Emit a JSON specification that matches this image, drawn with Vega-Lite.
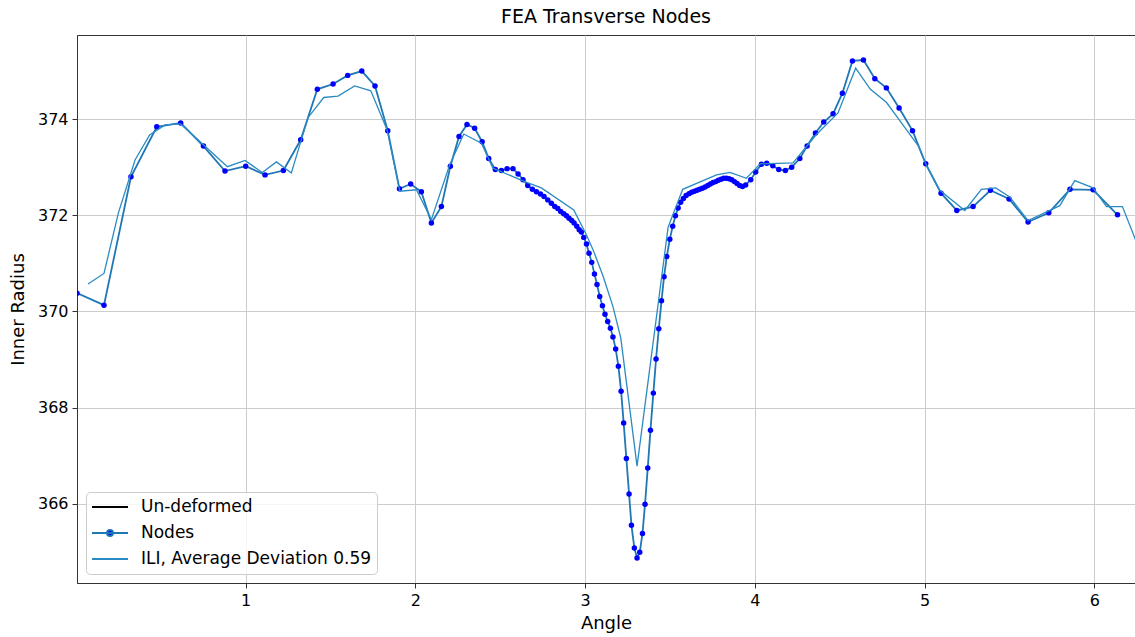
{
  "$schema": "https://vega.github.io/schema/vega-lite/v6.json",
  "width": 1058,
  "height": 548,
  "autosize": {"type": "none"},
  "padding": {"left": 77, "top": 35, "right": 0, "bottom": 54},
  "background": "white",
  "config": {
    "font": "DejaVu Sans",
    "view": {"stroke": "#333333", "strokeWidth": 1},
    "axis": {
      "labelFont": "DejaVu Sans", "titleFont": "DejaVu Sans",
      "labelFontSize": 16, "titleFontSize": 18, "titleFontWeight": "normal",
      "labelColor": "#000000", "titleColor": "#000000",
      "domainColor": "#333333", "tickColor": "#333333", "tickSize": 5,
      "gridColor": "#cccccc", "gridWidth": 1
    }
  },
  "title": {"text": "FEA Transverse Nodes", "fontSize": 19, "fontWeight": "normal", "font": "DejaVu Sans", "color": "#000000", "offset": 8},
  "datasets": {
    "nodes": [
      {"angle": 0.006, "r": 370.38}, {"angle": 0.165, "r": 370.13}, {"angle": 0.324, "r": 372.80}, {"angle": 0.476, "r": 373.84},
      {"angle": 0.617, "r": 373.92}, {"angle": 0.751, "r": 373.44}, {"angle": 0.878, "r": 372.92}, {"angle": 1.000, "r": 373.02},
      {"angle": 1.114, "r": 372.84}, {"angle": 1.222, "r": 372.93}, {"angle": 1.324, "r": 373.57}, {"angle": 1.422, "r": 374.62},
      {"angle": 1.515, "r": 374.73}, {"angle": 1.601, "r": 374.91}, {"angle": 1.684, "r": 375.00}, {"angle": 1.762, "r": 374.69},
      {"angle": 1.837, "r": 373.76}, {"angle": 1.906, "r": 372.55}, {"angle": 1.972, "r": 372.65}, {"angle": 2.035, "r": 372.49},
      {"angle": 2.094, "r": 371.84}, {"angle": 2.153, "r": 372.18}, {"angle": 2.206, "r": 373.02}, {"angle": 2.257, "r": 373.64},
      {"angle": 2.304, "r": 373.89}, {"angle": 2.349, "r": 373.81}, {"angle": 2.393, "r": 373.53}, {"angle": 2.432, "r": 373.18},
      {"angle": 2.471, "r": 372.95}, {"angle": 2.507, "r": 372.93}, {"angle": 2.540, "r": 372.97}, {"angle": 2.575, "r": 372.97},
      {"angle": 2.605, "r": 372.86}, {"angle": 2.634, "r": 372.74}, {"angle": 2.662, "r": 372.62}, {"angle": 2.689, "r": 372.54},
      {"angle": 2.713, "r": 372.49}, {"angle": 2.737, "r": 372.44}, {"angle": 2.758, "r": 372.39}, {"angle": 2.780, "r": 372.32},
      {"angle": 2.801, "r": 372.25}, {"angle": 2.821, "r": 372.18}, {"angle": 2.839, "r": 372.14}, {"angle": 2.856, "r": 372.08},
      {"angle": 2.874, "r": 372.03}, {"angle": 2.890, "r": 371.99}, {"angle": 2.905, "r": 371.94}, {"angle": 2.921, "r": 371.89},
      {"angle": 2.935, "r": 371.84}, {"angle": 2.951, "r": 371.77}, {"angle": 2.965, "r": 371.70}, {"angle": 2.978, "r": 371.65},
      {"angle": 2.992, "r": 371.54}, {"angle": 3.008, "r": 371.40}, {"angle": 3.023, "r": 371.21}, {"angle": 3.039, "r": 371.02},
      {"angle": 3.055, "r": 370.78}, {"angle": 3.070, "r": 370.56}, {"angle": 3.086, "r": 370.31}, {"angle": 3.102, "r": 370.12},
      {"angle": 3.117, "r": 369.94}, {"angle": 3.133, "r": 369.79}, {"angle": 3.149, "r": 369.65}, {"angle": 3.164, "r": 369.47},
      {"angle": 3.180, "r": 369.22}, {"angle": 3.196, "r": 368.86}, {"angle": 3.212, "r": 368.34}, {"angle": 3.227, "r": 367.68},
      {"angle": 3.243, "r": 366.94}, {"angle": 3.259, "r": 366.20}, {"angle": 3.273, "r": 365.55}, {"angle": 3.290, "r": 365.08},
      {"angle": 3.306, "r": 364.87}, {"angle": 3.322, "r": 364.99}, {"angle": 3.338, "r": 365.38}, {"angle": 3.353, "r": 365.99},
      {"angle": 3.369, "r": 366.74}, {"angle": 3.385, "r": 367.53}, {"angle": 3.402, "r": 368.30}, {"angle": 3.418, "r": 369.01},
      {"angle": 3.434, "r": 369.64}, {"angle": 3.450, "r": 370.22}, {"angle": 3.465, "r": 370.72}, {"angle": 3.481, "r": 371.14},
      {"angle": 3.499, "r": 371.50}, {"angle": 3.516, "r": 371.77}, {"angle": 3.532, "r": 371.99}, {"angle": 3.548, "r": 372.15},
      {"angle": 3.563, "r": 372.27}, {"angle": 3.579, "r": 372.35}, {"angle": 3.595, "r": 372.41}, {"angle": 3.612, "r": 372.45},
      {"angle": 3.628, "r": 372.48}, {"angle": 3.644, "r": 372.50}, {"angle": 3.660, "r": 372.52}, {"angle": 3.675, "r": 372.54},
      {"angle": 3.691, "r": 372.56}, {"angle": 3.707, "r": 372.59}, {"angle": 3.723, "r": 372.62}, {"angle": 3.738, "r": 372.65},
      {"angle": 3.754, "r": 372.68}, {"angle": 3.770, "r": 372.70}, {"angle": 3.785, "r": 372.73}, {"angle": 3.801, "r": 372.75},
      {"angle": 3.817, "r": 372.77}, {"angle": 3.833, "r": 372.77}, {"angle": 3.848, "r": 372.76}, {"angle": 3.864, "r": 372.74},
      {"angle": 3.880, "r": 372.70}, {"angle": 3.895, "r": 372.66}, {"angle": 3.911, "r": 372.62}, {"angle": 3.927, "r": 372.60},
      {"angle": 3.946, "r": 372.63}, {"angle": 3.976, "r": 372.74}, {"angle": 4.005, "r": 372.90}, {"angle": 4.039, "r": 373.06},
      {"angle": 4.070, "r": 373.08}, {"angle": 4.106, "r": 373.03}, {"angle": 4.141, "r": 372.95}, {"angle": 4.180, "r": 372.93},
      {"angle": 4.217, "r": 373.00}, {"angle": 4.265, "r": 373.18}, {"angle": 4.308, "r": 373.44}, {"angle": 4.357, "r": 373.71},
      {"angle": 4.406, "r": 373.94}, {"angle": 4.461, "r": 374.11}, {"angle": 4.516, "r": 374.54}, {"angle": 4.575, "r": 375.21},
      {"angle": 4.640, "r": 375.23}, {"angle": 4.707, "r": 374.84}, {"angle": 4.775, "r": 374.65}, {"angle": 4.850, "r": 374.23},
      {"angle": 4.929, "r": 373.76}, {"angle": 5.007, "r": 373.07}, {"angle": 5.097, "r": 372.46}, {"angle": 5.190, "r": 372.10},
      {"angle": 5.286, "r": 372.18}, {"angle": 5.388, "r": 372.52}, {"angle": 5.498, "r": 372.34}, {"angle": 5.610, "r": 371.86},
      {"angle": 5.732, "r": 372.05}, {"angle": 5.857, "r": 372.54}, {"angle": 5.993, "r": 372.53}, {"angle": 6.137, "r": 372.01}
    ],
    "ili": [
      {"angle": 0.071, "r": 370.57}, {"angle": 0.165, "r": 370.79}, {"angle": 0.250, "r": 372.05}, {"angle": 0.348, "r": 373.15},
      {"angle": 0.434, "r": 373.67}, {"angle": 0.525, "r": 373.88}, {"angle": 0.617, "r": 373.90}, {"angle": 0.892, "r": 373.01},
      {"angle": 0.996, "r": 373.14}, {"angle": 1.098, "r": 372.89}, {"angle": 1.181, "r": 373.11}, {"angle": 1.269, "r": 372.88},
      {"angle": 1.367, "r": 374.03}, {"angle": 1.460, "r": 374.45}, {"angle": 1.544, "r": 374.48}, {"angle": 1.642, "r": 374.69},
      {"angle": 1.737, "r": 374.59}, {"angle": 1.833, "r": 373.78}, {"angle": 1.908, "r": 372.50}, {"angle": 2.006, "r": 372.53},
      {"angle": 2.094, "r": 371.91}, {"angle": 2.202, "r": 373.05}, {"angle": 2.285, "r": 373.69}, {"angle": 2.389, "r": 373.50},
      {"angle": 2.457, "r": 372.98}, {"angle": 2.644, "r": 372.70}, {"angle": 2.742, "r": 372.57}, {"angle": 2.933, "r": 372.11},
      {"angle": 3.008, "r": 371.59}, {"angle": 3.047, "r": 371.28}, {"angle": 3.106, "r": 370.73}, {"angle": 3.164, "r": 370.10},
      {"angle": 3.210, "r": 369.45}, {"angle": 3.306, "r": 366.78}, {"angle": 3.489, "r": 371.75}, {"angle": 3.575, "r": 372.54},
      {"angle": 3.774, "r": 372.84}, {"angle": 3.854, "r": 372.89}, {"angle": 3.950, "r": 372.77}, {"angle": 4.032, "r": 373.07},
      {"angle": 4.225, "r": 373.09}, {"angle": 4.360, "r": 373.67}, {"angle": 4.490, "r": 374.13}, {"angle": 4.594, "r": 375.06},
      {"angle": 4.681, "r": 374.62}, {"angle": 4.775, "r": 374.35}, {"angle": 4.868, "r": 373.90}, {"angle": 4.962, "r": 373.45},
      {"angle": 5.007, "r": 373.07}, {"angle": 5.090, "r": 372.52}, {"angle": 5.237, "r": 372.10}, {"angle": 5.335, "r": 372.54},
      {"angle": 5.419, "r": 372.57}, {"angle": 5.502, "r": 372.38}, {"angle": 5.610, "r": 371.89}, {"angle": 5.797, "r": 372.20},
      {"angle": 5.885, "r": 372.72}, {"angle": 5.993, "r": 372.57}, {"angle": 6.072, "r": 372.18}, {"angle": 6.166, "r": 372.18},
      {"angle": 6.283, "r": 371.13}
    ]
  },
  "encoding": {
    "x": {"field": "angle", "type": "quantitative",
      "scale": {"domain": [0.006, 6.24], "nice": false, "zero": false},
      "axis": {"values": [1, 2, 3, 4, 5, 6], "title": "Angle", "labelPadding": 4, "titlePadding": 6, "grid": true}},
    "y": {"field": "r", "type": "quantitative",
      "scale": {"domain": [364.35, 375.75], "nice": false, "zero": false},
      "axis": {"values": [366, 368, 370, 372, 374], "title": "Inner Radius", "labelPadding": 4, "titlePadding": 10, "grid": true}}
  },
  "layer": [
    {
      "mark": {"type": "rule", "color": "#000000", "strokeWidth": 1.6},
      "encoding": {
        "x": null,
        "y": {"datum": 373.065, "type": "quantitative"},
        "color": {"datum": "Un-deformed", "type": "nominal",
          "scale": {"domain": ["Un-deformed", "Nodes", "ILI, Average Deviation 0.59"], "range": ["#000000", "#1f77b4", "#2a8bc2"]},
          "legend": {
            "title": null, "orient": "none", "legendX": 9, "legendY": 457,
            "symbolType": "stroke", "symbolSize": 1296, "symbolStrokeWidth": 1.8,
            "labelFont": "DejaVu Sans", "labelFontSize": 17, "labelColor": "#000000", "labelOffset": 12, "labelLimit": 0,
            "clipHeight": 20, "rowPadding": 6, "padding": 5,
            "fillColor": "rgba(255,255,255,0.8)", "strokeColor": "#cccccc", "cornerRadius": 4,
            "encode": {
              "symbols": {"update": {
                "shape": {"signal": "datum.label === 'Nodes' ? 'M-1,0H1M-0.17,0a0.17,0.17 0 1,0 0.34,0a0.17,0.17 0 1,0 -0.34,0' : 'stroke'"},
                "fill": {"signal": "datum.label === 'Nodes' ? '#0000ff' : 'transparent'"}
              }}
            }
          }}
      }
    },
    {
      "data": {"name": "nodes"},
      "mark": {"type": "line", "strokeWidth": 1.8, "clip": true},
      "encoding": {"color": {"datum": "Nodes", "type": "nominal"}}
    },
    {
      "data": {"name": "nodes"},
      "mark": {"type": "point", "filled": true, "color": "#0000ff", "opacity": 1, "size": 30, "clip": true},
      "encoding": {}
    },
    {
      "data": {"name": "ili"},
      "mark": {"type": "line", "strokeWidth": 1.3, "clip": true},
      "encoding": {"color": {"datum": "ILI, Average Deviation 0.59", "type": "nominal"}}
    }
  ]
}
